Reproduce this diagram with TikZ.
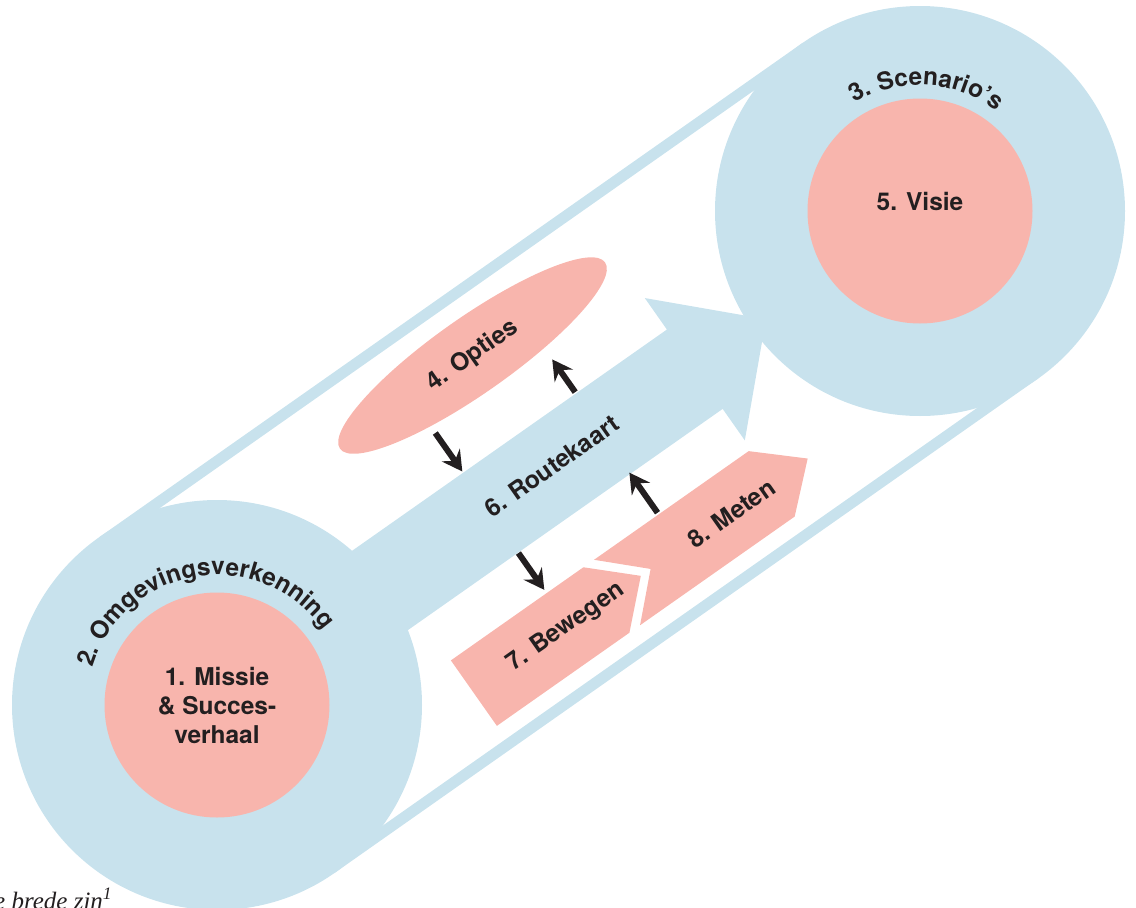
\documentclass[tikz,border=0pt]{standalone}
\usepackage{fontspec}
\setmainfont{Liberation Serif}
\setsansfont{TeX Gyre Heros}
\usetikzlibrary{shapes.geometric,arrows.meta,decorations.text}

\definecolor{ringblue}{HTML}{C8E2ED}
\definecolor{salmon}{HTML}{F8B5AD}
\definecolor{ink}{HTML}{231F20}
\newcommand{\diagfont}{\fontsize{24.5}{29}\selectfont\sffamily\bfseries}

\begin{document}
\begin{tikzpicture}[x=1pt,y=1pt]
	\tikzstyle{ring}=[circle, fill=ringblue, minimum size=410pt, inner sep=0pt]
	\tikzstyle{core}=[circle, fill=salmon, minimum size=225pt, inner sep=0pt, align=center, font=\diagfont, text=ink]
	\tikzstyle{tube}=[draw=ringblue, line width=11pt]
	\tikzstyle{caption}=[font=\diagfont, text=ink, inner sep=0pt]
	\tikzstyle{flow}=[draw=ink, line width=6pt, -{Stealth[length=20pt, width=22pt, inset=7pt]}]
	\tikzstyle{axis}=[shift={(217,-705)}, rotate=35.1]

	\useasboundingbox (0,0) rectangle (1136,-908);
	\clip (0,0) rectangle (1136,-908);

	\node[ring] (omgeving) at (217,-705) {};
	\node[ring] (scenarios) at (920,-211) {};

	\begin{scope}[axis]
		\draw[tube] (0,199.5) -- (860,199.5);
		\draw[tube] (0,-199.5) -- (860,-199.5);
		\fill[ringblue] (0,48.5) -- (584,48.5) -- (584,87) -- (671,0) -- (584,-87)
			-- (584,-48.5) -- (0,-48.5) -- cycle;
	\end{scope}

	\node[core] (missie) at (omgeving) {1. Missie\\\& Succes-\\verhaal};
	\node[core] (visie) at (scenarios) {};
	\node[caption] (visie-text) at ([yshift=10pt]visie.center) {5. Visie};

	\path[decorate, decoration={text along path, text align=center,
		text={|\diagfont\color{ink}|2. Omgevingsverkenning}}]
		(omgeving.center) ++(189.2:130) arc[start angle=189.2, end angle=9.2, radius=130];
	\path[decorate, decoration={text along path, text align=center,
		text={|\diagfont\color{ink}|3. Scenario's}}]
		(scenarios.center) ++(176.7:126) arc[start angle=176.7, end angle=-3.3, radius=126];

	\begin{scope}[axis]
		\node[caption, transform shape] (routekaart) at (411,3) {6. Routekaart};

		\node[ellipse, fill=salmon, minimum width=324pt, minimum height=76pt,
			caption, transform shape] (opties) at (410,139) {4. Opties};

		\fill[salmon] (217,-98) -- (379,-98) -- (421,-138) -- (379,-178) -- (217,-178) -- cycle;
		\fill[salmon] (392,-98) -- (581,-98) -- (625,-138) -- (581,-178) -- (392,-178)
			-- (433,-138) -- cycle;
		\node[caption, transform shape] (bewegen) at (330,-137) {7. Bewegen};
		\node[caption, transform shape] (meten) at (531,-139) {8. Meten};

		\coordinate (opties-out) at (335,97);
		\coordinate (route-in) at (335,50);
		\coordinate (route-up) at (473,50);
		\coordinate (opties-in) at (473,90);
		\coordinate (route-down) at (334,-49);
		\coordinate (bewegen-in) at (334,-94);
		\coordinate (meten-out) at (471,-96);
		\coordinate (route-back) at (471,-47);
	\end{scope}

	\draw[flow] (opties-out) -- (route-in);
	\draw[flow] (route-up) -- (opties-in);
	\draw[flow] (route-down) -- (bewegen-in);
	\draw[flow] (meten-out) -- (route-back);

	\node[anchor=base west, inner sep=0pt, font=\fontsize{25}{30}\selectfont\itshape, text=ink]
		(brede) at (-6,-909) {e brede zin\textsuperscript{1}};
\end{tikzpicture}
\end{document}
